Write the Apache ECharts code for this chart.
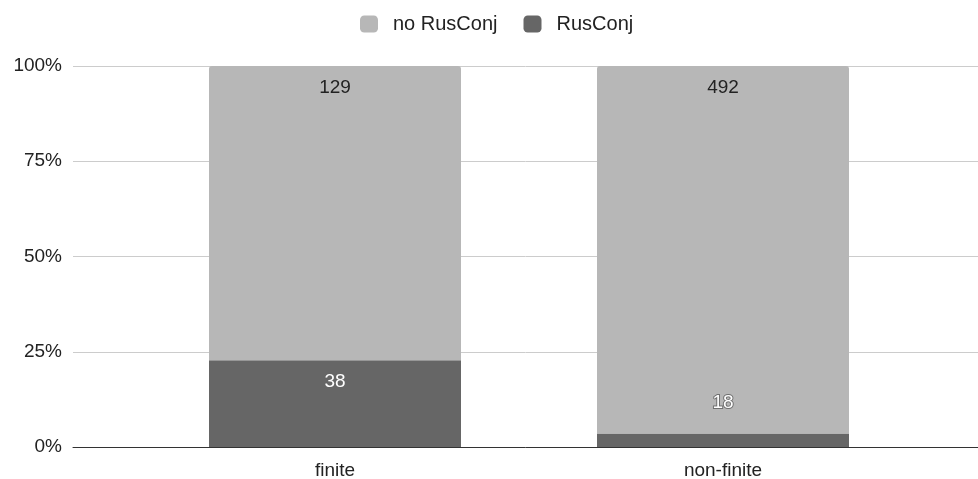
<!DOCTYPE html>
<html>
<head>
<meta charset="utf-8">
<script src="https://cdn.jsdelivr.net/npm/echarts@6/dist/echarts.min.js"></script>
<style>
  html, body { margin: 0; padding: 0; background: #fff; }
  #chart { width: 978px; height: 479px; }
</style>
</head>
<body>
<div id="chart"></div>
<script>
const categories = ['finite', 'non-finite']
const rusConj = [38, 18]
const noRusConj = [129, 492]
const yTicks = [0, 25, 50, 75, 100]

// share of each count in its category, in percent
const totals = categories.map((c, i) => rusConj[i] + noRusConj[i])
const pct = (arr) => arr.map((v, i) => v / totals[i] * 100)

const font = 'Liberation Sans, Arial, sans-serif'
const fs = 19

let chart = echarts.init(document.getElementById('chart'))

// the small dark segment cannot hold its label, so it goes above it
const rusData = pct(rusConj).map((v, i) => {
  let item = { value: v, raw: rusConj[i] }
  if (v < 10) {
    item.label = {
      position: 'top',
      distance: 21,
      color: '#fff',
      textBorderColor: '#6f6f6f',
      textBorderWidth: 2
    }
  }
  return item
})
const noRusData = pct(noRusConj).map((v, i) => ({ value: v, raw: noRusConj[i] }))

chart.setOption({
  animation: false,
  textStyle: { fontFamily: font },
  legend: {
    top: 9,
    left: 355,
    itemWidth: 18,
    itemHeight: 17,
    itemGap: 26,
    icon: 'roundRect',
    textStyle: { color: '#222', fontSize: 20, fontFamily: font, padding: [0, 0, 0, 10] },
    data: ['no RusConj', 'RusConj']
  },
  grid: [
    { left: 73, right: 0, top: 66, bottom: 32, outerBoundsMode: 'none' },
    { left: 141, right: 61, top: 66, bottom: 32, outerBoundsMode: 'none' }
  ],
  xAxis: [
    {
      gridIndex: 0,
      type: 'category',
      data: [''],
      axisTick: { show: false },
      axisLabel: { show: false },
      axisLine: { lineStyle: { color: '#333', width: 1 } }
    },
    {
      gridIndex: 1,
      type: 'category',
      data: categories,
      axisTick: { show: false },
      axisLine: { show: false },
      axisLabel: { color: '#222', fontSize: fs, margin: 14, fontFamily: font }
    }
  ],
  yAxis: [
    {
      gridIndex: 0,
      type: 'value',
      min: 0,
      max: 100,
      interval: 25,
      axisLine: { show: false },
      axisTick: { show: false },
      axisLabel: {
        color: '#222',
        fontSize: fs,
        margin: 11,
        fontFamily: font,
        formatter: (v) => yTicks.includes(v) ? v + '%' : ''
      },
      splitLine: { lineStyle: { color: '#cccccc', width: 1 } }
    },
    {
      gridIndex: 1,
      type: 'value',
      min: 0,
      max: 100,
      show: false,
      splitLine: { show: false }
    }
  ],
  series: [
    {
      name: 'RusConj',
      type: 'bar',
      stack: 'total',
      xAxisIndex: 1,
      yAxisIndex: 1,
      barWidth: 252,
      data: rusData,
      itemStyle: { color: '#666666' },
      label: {
        show: true,
        position: 'insideTop',
        distance: 12,
        color: '#fff',
        fontSize: fs,
        fontFamily: font,
        formatter: (p) => p.data.raw
      }
    },
    {
      name: 'no RusConj',
      type: 'bar',
      stack: 'total',
      xAxisIndex: 1,
      yAxisIndex: 1,
      barWidth: 252,
      data: noRusData,
      itemStyle: { color: '#b7b7b7', borderRadius: [3, 3, 0, 0] },
      label: {
        show: true,
        position: 'insideTop',
        distance: 12,
        color: '#222',
        fontSize: fs,
        fontFamily: font,
        formatter: (p) => p.data.raw
      }
    }
  ]
})
</script>
</body>
</html>
